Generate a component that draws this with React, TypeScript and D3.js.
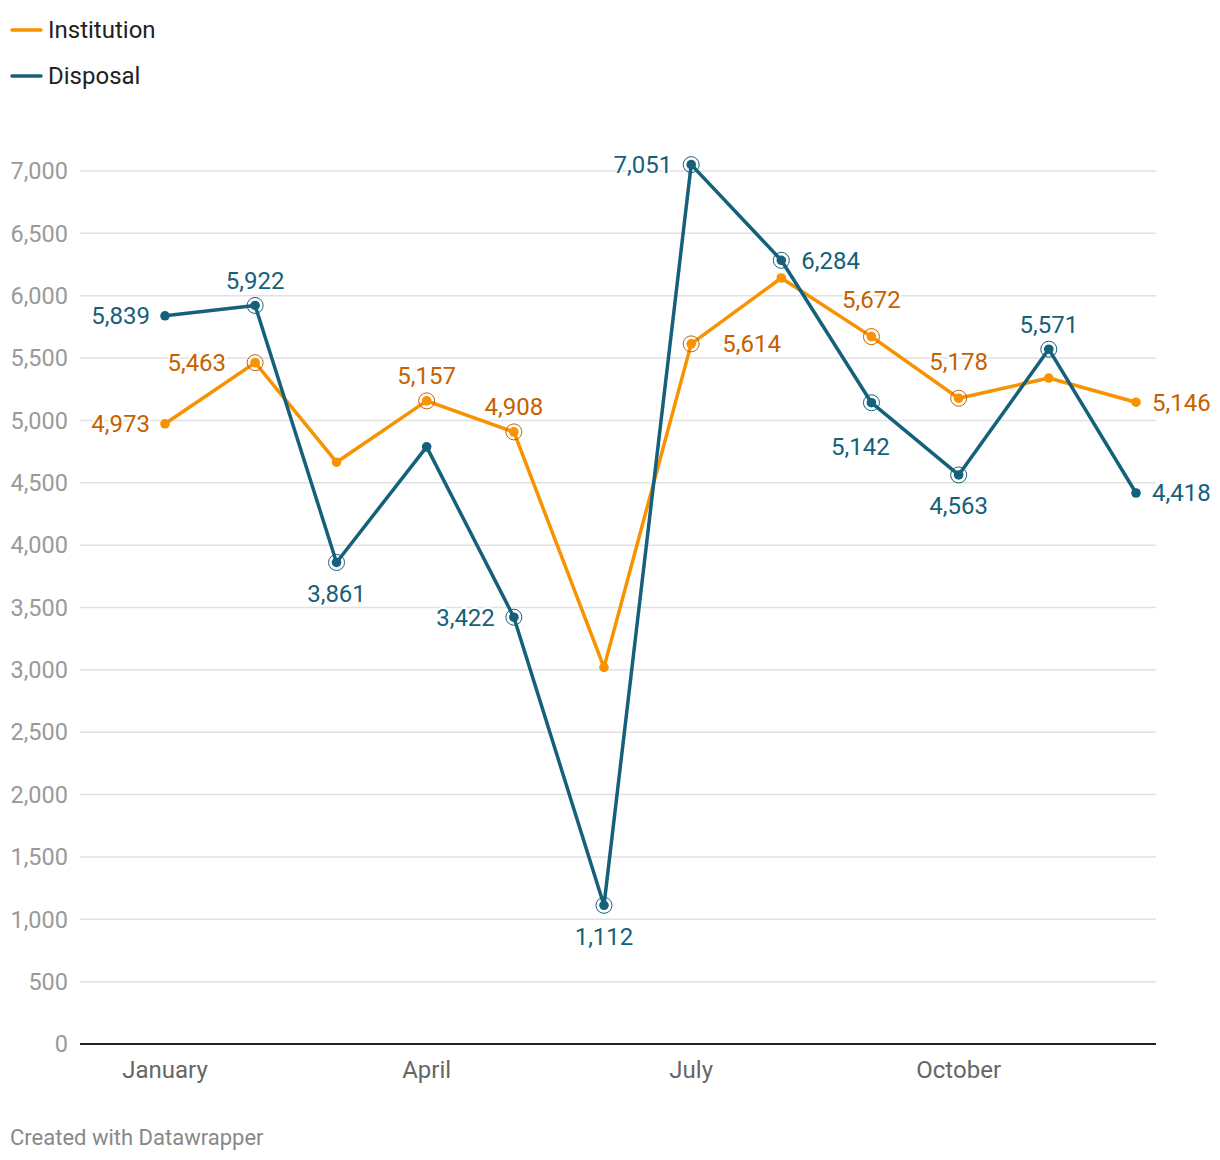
import React from "react";
import * as d3 from "d3";

const months = ["2021-01-01","2021-02-01","2021-03-01","2021-04-01","2021-05-01","2021-06-01","2021-07-01","2021-08-01","2021-09-01","2021-10-01","2021-11-01","2021-12-01"];
const institution = [4973, 5463, 4665, 5157, 4908, 3020, 5614, 6142, 5672, 5178, 5340, 5146];
const disposal = [5839, 5922, 3861, 4788, 3422, 1112, 7051, 6284, 5142, 4563, 5571, 4418];
// label placement per point: "" = no label
const institutionLabels = ["left", "left3", "", "top", "top", "", "right2", "", "top2", "top2", "", "right"];
const disposalLabels = ["left", "top", "bottom", "", "left2", "bottom", "left2", "rightR", "bottom2", "bottom", "top", "right"];
const xTicks = ["2021-01-01", "2021-04-01", "2021-07-01", "2021-10-01"];
const xTickLabels = ["January", "April", "July", "October"];
const yTicks = d3.range(0, 7001, 500);

const W = 1220, H = 1160;
const ORANGE = "#f89200";
const ORANGE_TXT = "#c66100";
const BLUE = "#15607a";
const FONT = "Roboto, 'Noto Sans', sans-serif";

export default function App() {
  const parse = d3.timeParse("%Y-%m-%d");
  const dates = months.map((m) => parse(m) as Date);
  const x = d3.scaleTime().domain([dates[0], dates[11]]).range([165, 1136]);
  const y = d3.scaleLinear().domain([0, 7000]).range([1044, 171]);
  const line = d3.line<[Date, number]>().x((d) => x(d[0])).y((d) => y(d[1]));
  const fmt = d3.format(",");

  const series = [
    { name: "Institution", values: institution, color: ORANGE, txt: ORANGE_TXT, labels: institutionLabels },
    { name: "Disposal", values: disposal, color: BLUE, txt: BLUE, labels: disposalLabels },
  ];

  const labelPos = (pos: string, px: number, py: number) => {
    switch (pos) {
      case "left": return { x: px - 15, y: py, anchor: "end" };
      case "left2": return { x: px - 19, y: py, anchor: "end" };
      case "left3": return { x: px - 29, y: py, anchor: "end" };
      case "right": return { x: px + 16, y: py, anchor: "start" };
      case "rightR": return { x: px + 20, y: py, anchor: "start" };
      case "right2": return { x: px + 31, y: py, anchor: "start" };
      case "top": return { x: px, y: py - 25, anchor: "middle" };
      case "top2": return { x: px, y: py - 37, anchor: "middle" };
      case "bottom": return { x: px, y: py + 31, anchor: "middle" };
      case "bottom2": return { x: px - 11, y: py + 44, anchor: "middle" };
      default: return null;
    }
  };

  return (
    <svg width={W} height={H} style={{ position: "absolute", left: 0, top: 0, background: "#fff" }} fontFamily={FONT}>
      {/* legend */}
      {series.map((s, i) => (
        <g key={s.name} transform={`translate(0,${30 + i * 46})`}>
          <line x1={12} x2={41} y1={0} y2={0} stroke={s.color} strokeWidth={3.5} strokeLinecap="round" />
          <text x={48} y={0} dy="0.35em" fontSize={24} fill="#222">{s.name}</text>
        </g>
      ))}
      {/* grid */}
      {yTicks.map((t) => (
        <g key={t}>
          {t > 0 && <line x1={80} x2={1156} y1={y(t)} y2={y(t)} stroke="#e1e1e1" strokeWidth={1.5} />}
          <text x={68} y={y(t)} dy="0.35em" textAnchor="end" fontSize={23.5} fill="#9a9a9a">{fmt(t)}</text>
        </g>
      ))}
      <line x1={80} x2={1156} y1={y(0)} y2={y(0)} stroke="#222" strokeWidth={2} />
      {xTicks.map((t, i) => (
        <text key={t} x={x(parse(t) as Date)} y={1070} dy="0.35em" textAnchor="middle" fontSize={24} fill="#666">{xTickLabels[i]}</text>
      ))}
      {/* lines */}
      {series.map((s) => (
        <g key={s.name}>
          <path d={line(dates.map((d, i) => [d, s.values[i]]) as [Date, number][]) || ""} fill="none" stroke={s.color} strokeWidth={3.5} strokeLinejoin="round" />
          {dates.map((d, i) => (
            <g key={i}>
              {s.labels[i] && i > 0 && i < 11 && (
                <circle cx={x(d)} cy={y(s.values[i])} r={8} fill="none" stroke={s.txt} strokeWidth={1} />
              )}
              <circle cx={x(d)} cy={y(s.values[i])} r={4.8} fill={s.color} />
            </g>
          ))}
        </g>
      ))}
      {/* labels */}
      {series.map((s) => (
        <g key={s.name + "-l"}>
          {dates.map((d, i) => {
            const p = labelPos(s.labels[i], x(d), y(s.values[i]));
            if (!p) return null;
            return (
              <text key={i} x={p.x} y={p.y} dy="0.35em" textAnchor={p.anchor as any} fontSize={24} fill={s.txt}
                stroke="#fff" strokeWidth={4} paintOrder="stroke" strokeLinejoin="round">{fmt(s.values[i])}</text>
            );
          })}
        </g>
      ))}
      <text x={10} y={1137} dy="0.35em" fontSize={22} fill="#888">Created with Datawrapper</text>
    </svg>
  );
}
